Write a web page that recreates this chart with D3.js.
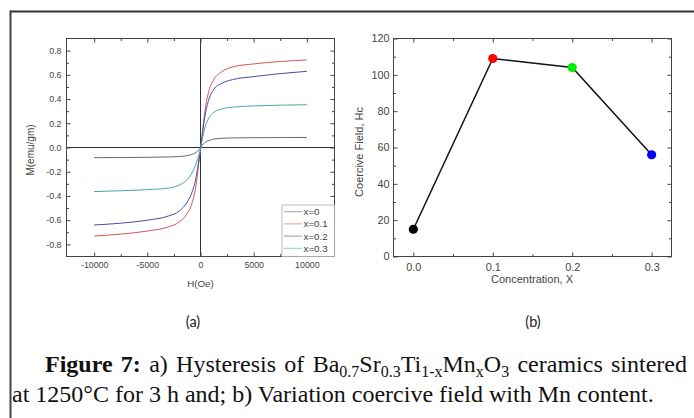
<!DOCTYPE html>
<html>
<head>
<meta charset="utf-8">
<script src="https://cdn.jsdelivr.net/npm/d3@7"></script>
<style>
  body { margin: 0; background: #fff; }
  svg { display: block; }
  .axis text { font-family: "Liberation Sans", Arial, sans-serif; fill: #444; }
  .axis path, .axis line { stroke: #444; }
  .pa .axis text { font-size: 8.8px; }
  .pb .axis text { font-size: 10.8px; }
  .lab { font-family: "Liberation Sans", Arial, sans-serif; fill: #444; }
  .panel { font-family: Lato, "Open Sans", sans-serif; font-size: 14.5px; fill: #222; }
  .cap { font-family: "Liberation Serif", "Times New Roman", serif; font-size: 24px; fill: #111; }
</style>
</head>
<body>
<svg id="fig" width="694" height="418"></svg>
<script>
// ---- data: (a) hysteresis M(H) ----
const fieldH = [-10000, -7500, -5000, -3000, -2000, -1250, -800, -400, -150, 0,
                150, 400, 800, 1250, 2000, 3000, 5000, 7500, 10000];
const seriesNames = ['x=0', 'x=0.1', 'x=0.2', 'x=0.3'];
const seriesColors = ['#6a6a6a', '#cc5a5a', '#4a4aa6', '#4aa8a8'];
const mX0  = [-0.084, -0.083, -0.081, -0.078, -0.075, -0.067, -0.057, -0.040, -0.020, -0.003,
              0.018, 0.040, 0.058, 0.069, 0.076, 0.079, 0.081, 0.082, 0.083];
const mX01 = [-0.731, -0.715, -0.690, -0.655, -0.615, -0.545, -0.460, -0.300, -0.120, -0.020,
              0.100, 0.290, 0.470, 0.560, 0.625, 0.665, 0.690, 0.710, 0.723];
const mX02 = [-0.640, -0.625, -0.600, -0.565, -0.525, -0.450, -0.370, -0.240, -0.100, -0.020,
              0.090, 0.250, 0.400, 0.480, 0.530, 0.560, 0.585, 0.610, 0.629];
const mX03 = [-0.364, -0.357, -0.348, -0.335, -0.310, -0.265, -0.210, -0.130, -0.060, -0.010,
              0.060, 0.160, 0.245, 0.290, 0.318, 0.333, 0.343, 0.350, 0.353];
const hTicks = [-10000, -5000, 0, 5000, 10000];
const hTickLabels = ['-10000', '-5000', '0', '5000', '10000'];
const hMinor = [-7500, -2500, 2500, 7500];
const mTicks = [-0.8, -0.6, -0.4, -0.2, 0, 0.2, 0.4, 0.6, 0.8];
const mTickLabels = ['-0.8', '-0.6', '-0.4', '-0.2', '0.0', '0.2', '0.4', '0.6', '0.8'];
const mMinor = [-0.7, -0.5, -0.3, -0.1, 0.1, 0.3, 0.5, 0.7];

// ---- data: (b) coercive field vs concentration ----
const concX = [0.0, 0.1, 0.2, 0.3];
const coerciveHc = [15, 109, 104, 56];
const pointColors = ['#000000', '#ff0000', '#00ee00', '#0000ff'];
const cTicks = [0, 0.1, 0.2, 0.3];
const cTickLabels = ['0.0', '0.1', '0.2', '0.3'];
const cMinor = [0.05, 0.15, 0.25];
const hcTicks = [0, 20, 40, 60, 80, 100, 120];
const hcTickLabels = ['0', '20', '40', '60', '80', '100', '120'];
const hcMinor = [10, 30, 50, 70, 90, 110];

const svg = d3.select('#fig');

// Outer frame (top + left rules)
svg.append('line').attr('x1', 10).attr('y1', 11.5).attr('x2', 694).attr('y2', 11.5)
    .attr('stroke', '#333').attr('stroke-width', 2);
svg.append('line').attr('x1', 10.5).attr('y1', 10.5).attr('x2', 10.5).attr('y2', 418)
    .attr('stroke', '#444').attr('stroke-width', 2);

// Draws a boxed frame with inward major/minor ticks on all four sides
function frame(g, x, y, w, h, xs, ys, opts) {
    const axes = [
        ['axisBottom', xs, `translate(0,${y + h})`, true, opts.xTicks, opts.xLabels, opts.xMinor],
        ['axisTop', xs, `translate(0,${y})`, false, opts.xTicks, opts.xLabels, opts.xMinor],
        ['axisLeft', ys, `translate(${x},0)`, true, opts.yTicks, opts.yLabels, opts.yMinor],
        ['axisRight', ys, `translate(${x + w},0)`, false, opts.yTicks, opts.yLabels, opts.yMinor],
    ];
    axes.forEach(([fn, sc, tr, labelled, ticks, labels, minor]) => {
        g.append('g').attr('class', 'axis').attr('transform', tr)
            .call(d3[fn](sc).tickValues(ticks).tickSize(-4)
                .tickPadding(fn === 'axisLeft' ? opts.padY : opts.padX)
                .tickFormat((d, i) => labelled ? labels[i] : ''))
            .call(a => a.select('.domain').remove());
        g.append('g').attr('class', 'axis').attr('transform', tr)
            .call(d3[fn](sc).tickValues(minor).tickSize(-2.5).tickFormat(''))
            .call(a => a.select('.domain').remove());
    });
    g.append('rect').attr('x', x).attr('y', y).attr('width', w).attr('height', h)
        .attr('fill', 'none').attr('stroke', '#444').attr('stroke-width', 1);
}

// ---------------- (a) ----------------
const A = { x: 66.5, y: 38.5, w: 268, h: 218 };
const xA = d3.scaleLinear().domain([-12600, 12600]).range([A.x, A.x + A.w]);
const yA = d3.scaleLinear().domain([-0.9, 0.9]).range([A.y + A.h, A.y]);
const gA = svg.append('g').attr('class', 'pa');

// zero lines
gA.append('line').attr('x1', A.x).attr('x2', A.x + A.w).attr('y1', yA(0)).attr('y2', yA(0))
    .attr('stroke', '#333').attr('stroke-width', 1);
gA.append('line').attr('x1', xA(0)).attr('x2', xA(0)).attr('y1', A.y).attr('y2', A.y + A.h)
    .attr('stroke', '#333').attr('stroke-width', 1);

const curves = [mX0, mX01, mX02, mX03];
const line = d3.line().x((d, i) => xA(fieldH[i])).y(d => yA(d)).curve(d3.curveMonotoneX);
curves.forEach((m, k) => {
    gA.append('path').datum(m).attr('d', line)
        .attr('fill', 'none').attr('stroke', seriesColors[k]).attr('stroke-width', 1);
});

frame(gA, A.x, A.y, A.w, A.h, xA, yA, {
    xTicks: hTicks, xLabels: hTickLabels, xMinor: hMinor,
    yTicks: mTicks, yLabels: mTickLabels, yMinor: mMinor, padX: 5, padY: 5,
});

// legend
const leg = gA.append('g');
leg.append('rect').attr('x', 282).attr('y', 205).attr('width', A.x + A.w - 282).attr('height', A.y + A.h - 205)
    .attr('fill', '#fff').attr('stroke', '#aaa').attr('stroke-width', 0.8);
seriesNames.forEach((n, k) => {
    const ly = 211.7 + k * 12.2;
    leg.append('line').attr('x1', 284).attr('x2', 302).attr('y1', ly).attr('y2', ly)
        .attr('stroke', seriesColors[k]).attr('stroke-width', 1).attr('opacity', 0.6);
    leg.append('text').attr('class', 'lab').attr('font-size', '9.8px')
        .attr('x', 303.5).attr('y', ly + 3.5).text(n);
});

gA.append('text').attr('class', 'lab').attr('font-size', '9.8px').attr('x', xA(0)).attr('y', 286.5)
    .attr('text-anchor', 'middle').text('H(Oe)');
gA.append('text').attr('class', 'lab').attr('font-size', '10px').attr('transform', 'translate(33.5,150) rotate(-90)')
    .attr('text-anchor', 'middle').text('M(emu/gm)');

// ---------------- (b) ----------------
const B = { x: 393.5, y: 38.5, w: 278, h: 218 };
const xB = d3.scaleLinear().domain([-0.025, 0.325]).range([B.x, B.x + B.w]);
const yB = d3.scaleLinear().domain([0, 120]).range([B.y + B.h, B.y]);
const gB = svg.append('g').attr('class', 'pb');

frame(gB, B.x, B.y, B.w, B.h, xB, yB, {
    xTicks: cTicks, xLabels: cTickLabels, xMinor: cMinor,
    yTicks: hcTicks, yLabels: hcTickLabels, yMinor: hcMinor, padX: 6.5, padY: 4,
});

gB.append('path').datum(coerciveHc)
    .attr('d', d3.line().x((d, i) => xB(concX[i])).y(d => yB(d)))
    .attr('fill', 'none').attr('stroke', '#111').attr('stroke-width', 1.5);
gB.selectAll('circle').data(coerciveHc).join('circle')
    .attr('cx', (d, i) => xB(concX[i])).attr('cy', d => yB(d)).attr('r', 4.6)
    .attr('fill', (d, i) => pointColors[i]);

gB.append('text').attr('class', 'lab').attr('font-size', '11px').attr('x', 532).attr('y', 283)
    .attr('text-anchor', 'middle').text('Concentration, X');
gB.append('text').attr('class', 'lab').attr('font-size', '11px').attr('transform', 'translate(363,152) rotate(-90)')
    .attr('text-anchor', 'middle').text('Coercive Field, Hc');

// panel labels
svg.append('text').attr('class', 'panel').attr('x', 193).attr('y', 327).attr('text-anchor', 'middle').text('(a)');
svg.append('text').attr('class', 'panel').attr('x', 533).attr('y', 327).attr('text-anchor', 'middle').text('(b)');

// ---------------- caption ----------------
const cap1 = svg.append('text').attr('class', 'cap').attr('x', 45).attr('y', 372);
const parts = [
    ['Figure 7:', 'b'], [' a) Hysteresis of Ba'], ['0.7', 's'], ['Sr'], ['0.3', 's'], ['Ti'],
    ['1-x', 's'], ['Mn'], ['x', 's'], ['O'], ['3', 's'], [' ceramics sintered'],
];
let sub = false;
parts.forEach(([t, f]) => {
    const ts = cap1.append('tspan').text(t);
    if (f === 'b') ts.attr('font-weight', 'bold');
    if (f === 's') ts.attr('font-size', '16px');
    if (f === 's' && !sub) { ts.attr('dy', 5); sub = true; }
    else if (f !== 's' && sub) { ts.attr('dy', -5); sub = false; }
});
// justify first line to the right margin
const spaces = parts.map(p => p[0]).join('').split(' ').length - 1;
const natural = cap1.node().getComputedTextLength();
cap1.attr('word-spacing', Math.max(0, (642 - natural) / spaces));

svg.append('text').attr('class', 'cap').attr('x', 12).attr('y', 402)
    .text('at 1250°C for 3 h and; b) Variation coercive field with Mn content.');
</script>
</body>
</html>
